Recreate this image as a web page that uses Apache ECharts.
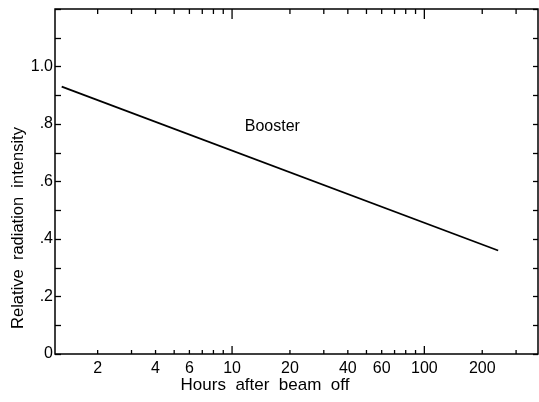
<!DOCTYPE html>
<html>
<head>
<meta charset="utf-8">
<script src="https://cdn.jsdelivr.net/npm/echarts@6/dist/echarts.min.js"></script>
<style>
  html, body { margin: 0; padding: 0; background: #fff; }
  #chart { width: 539px; height: 402px; }
</style>
</head>
<body>
<div id="chart"></div>
<script>
// Decay of relative radiation intensity after beam off (semi-log)
const hours = [1.3, 242];
const intensity = [0.93, 0.36];

const xTickValues = [2, 3, 4, 5, 6, 7, 8, 9, 10, 20, 30, 40, 50, 60, 70, 80, 90, 100, 200, 300];
const xDecadeTicks = [10, 100];
const xLabelValues = [2, 4, 6, 10, 20, 40, 60, 100, 200];
const xLabelTexts = ['2', '4', '6', '10', '20', '40', '60', '100', '200'];

const yTickValues = [0, 0.2, 0.4, 0.6, 0.8, 1.0];
const yTickLabels = ['0', '.2', '.4', '.6', '.8', '1.0'];

const seriesName = 'Booster';
const xTitle = 'Hours  after  beam  off';
const yTitle = 'Relative  radiation  intensity';

const FONT = 'Liberation Sans, Arial, sans-serif';
const X_MIN = 1.2, X_MAX = 390, Y_MIN = 0, Y_MAX = 1.2;

const chart = echarts.init(document.getElementById('chart'), null, { renderer: 'canvas' });

function yLabel(v) {
  const i = yTickValues.findIndex(t => Math.abs(t - v) < 1e-9);
  return i >= 0 ? yTickLabels[i] : '';
}

const yAxisCommon = {
  type: 'value', min: Y_MIN, max: Y_MAX, interval: 0.2,
  axisLine: { show: false },
  splitLine: { show: false },
  minorTick: { show: true, splitNumber: 2, length: 6, lineStyle: { color: '#000', width: 1.3 } }
};

chart.setOption({
  animation: false,
  backgroundColor: '#fff',
  grid: { left: 55, right: 1, top: 9, bottom: 48, show: true, borderColor: '#000', borderWidth: 1.5, backgroundColor: 'transparent' },
  xAxis: {
    type: 'log', logBase: 10, min: X_MIN, max: X_MAX,
    axisLine: { show: false }, axisTick: { show: false },
    axisLabel: { show: false }, splitLine: { show: false }
  },
  yAxis: [
    Object.assign({}, yAxisCommon, {
      position: 'left',
      axisTick: { show: true, inside: true, length: 6, lineStyle: { color: '#000', width: 1.3 } },
      axisLabel: { show: true, margin: 2, formatter: yLabel, color: '#000', fontSize: 16, fontFamily: FONT }
    }),
    Object.assign({}, yAxisCommon, {
      position: 'right',
      axisTick: { show: true, inside: true, length: 5, lineStyle: { color: '#000', width: 1.3 } },
      minorTick: { show: true, splitNumber: 2, length: 5, lineStyle: { color: '#000', width: 1.3 } },
      axisLabel: { show: false }
    })
  ],
  graphic: [
    {
      type: 'text', x: 265, y: 385,
      style: { text: xTitle, fill: '#000', font: '17px ' + FONT, textAlign: 'center', textVerticalAlign: 'middle' }
    },
    {
      type: 'text', x: 18, y: 228, rotation: Math.PI / 2,
      style: { text: yTitle, fill: '#000', font: '16.5px ' + FONT, textAlign: 'center', textVerticalAlign: 'middle' }
    }
  ],
  series: [
    {
      name: seriesName,
      type: 'line',
      data: hours.map((h, i) => [h, intensity[i]]),
      showSymbol: false,
      lineStyle: { color: '#000', width: 1.8 },
      markPoint: {
        symbol: 'rect', symbolSize: 0,
        data: [{ coord: [17, 0.8], value: seriesName }],
        label: { show: true, formatter: seriesName, color: '#000', fontSize: 16, fontFamily: FONT, position: 'inside', offset: [-4, 3] }
      },
      silent: true
    },
    {
      // tick marks on bottom and top edges of the log axis
      type: 'custom',
      silent: true,
      clip: false,
      data: xTickValues.map(v => [v, 0]),
      renderItem: function (params, api) {
        const v = api.value(0);
        const b = api.coord([v, Y_MIN]);
        const t = api.coord([v, Y_MAX]);
        const major = xDecadeTicks.indexOf(v) >= 0;
        const lb = major ? 8 : 4;
        const lt = major ? 10 : 5;
        const style = { stroke: '#000', lineWidth: 1.3 };
        return {
          type: 'group',
          children: [
            { type: 'line', shape: { x1: b[0], y1: b[1], x2: b[0], y2: b[1] - lb }, style: style },
            { type: 'line', shape: { x1: t[0], y1: t[1], x2: t[0], y2: t[1] + lt }, style: style }
          ]
        };
      }
    },
    {
      // tick labels on the log axis
      type: 'custom',
      silent: true,
      clip: false,
      data: xLabelValues.map((v, i) => [v, 0, i]),
      renderItem: function (params, api) {
        const v = api.value(0);
        const i = api.value(2);
        const p = api.coord([v, Y_MIN]);
        return {
          type: 'text',
          x: p[0], y: p[1] + 15,
          style: { text: xLabelTexts[i], fill: '#000', font: '16px ' + FONT, textAlign: 'center', textVerticalAlign: 'middle' }
        };
      }
    }
  ]
});
</script>
</body>
</html>
